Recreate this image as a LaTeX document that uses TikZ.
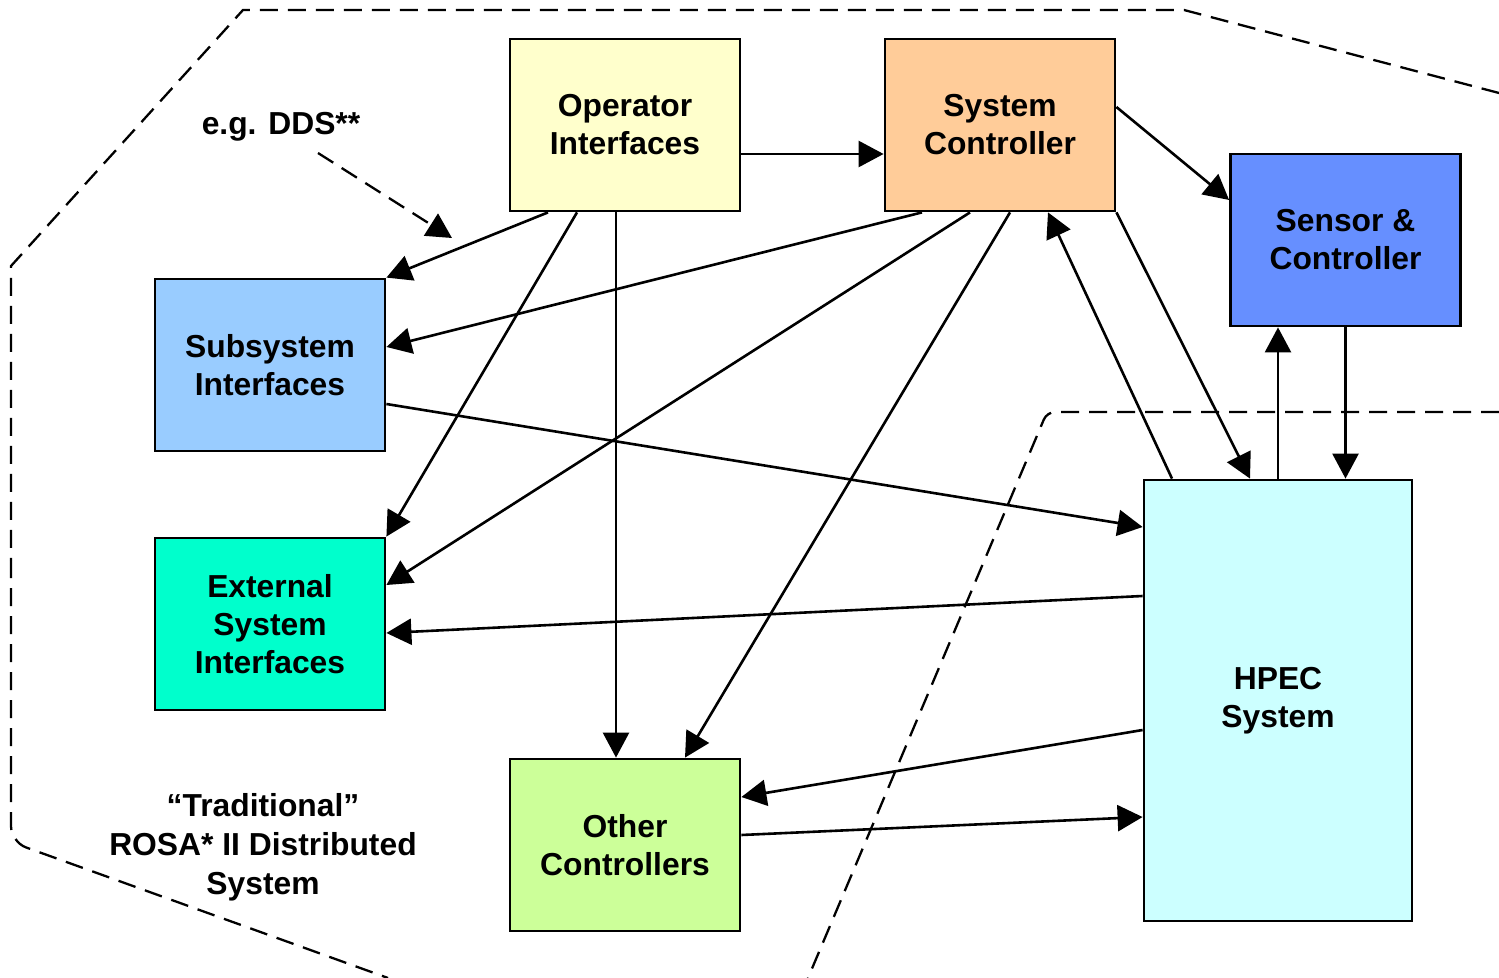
\documentclass[tikz,border=0pt]{standalone}
\usepackage{fontspec}
\setmainfont{Liberation Sans}
\usetikzlibrary{arrows.meta,calc}
\definecolor{cop}{HTML}{FFFFCC}
\definecolor{csc}{HTML}{FFCC99}
\definecolor{csen}{HTML}{668FFF}
\definecolor{csub}{HTML}{99CCFF}
\definecolor{cext}{HTML}{00FFCC}
\definecolor{coth}{HTML}{CCFF99}
\definecolor{chpec}{HTML}{CCFFFF}
\begin{document}
\begin{tikzpicture}[x=0.5pt,y=-0.5pt,
  box/.style={draw=black,line width=1.4pt,rectangle,align=center,inner sep=0pt,
    font=\bfseries\fontsize{15.9}{19}\selectfont,minimum width=115pt,minimum height=86pt},
  arr/.style={line width=1.3pt,-{Triangle[length=12.5pt,width=13pt]}},
  dsh/.style={line width=1.15pt,dash pattern=on 9pt off 5pt},
  lbl/.style={align=center,inner sep=0pt,font=\bfseries\fontsize{15.9}{19.5}\selectfont}]
\useasboundingbox (0,0) rectangle (1499,978);
% dashed boundaries
\draw[dsh] (1499,93) -- (1184,10) -- (243,10) -- (11,266) -- (11,560);
\draw[dsh,rounded corners=8pt] (11,560) -- (11,842) -- (388,978);
\draw[dsh,rounded corners=4pt] (1499,412) -- (1047,412) -- (808,978);
% boxes
\node[box,fill=cop] (op) at (625,125) {Operator\\Interfaces};
\node[box,fill=csc] (sc) at (1000,125) {System\\Controller};
\node[box,fill=csen] (sen) at (1345.5,240) {Sensor \&\\Controller};
\node[box,fill=csub] (sub) at (270,365) {Subsystem\\Interfaces};
\node[box,fill=cext] (ext) at (270,624) {External\\System\\Interfaces};
\node[box,fill=coth] (oth) at (625,845) {Other\\Controllers};
\node[box,fill=chpec,minimum width=134pt,minimum height=220.5pt] (hpec) at (1278,700.5) {HPEC\\System};
% labels
\node[lbl] (dds) at (281,127) {e.g. DDS**};
\node[lbl] (rosa) at (263,847) {``Traditional''\\ROSA* II Distributed\\System};
\coordinate (ddsa) at (318,153);
\coordinate (ddsb) at (452,238);
\draw[arr,dsh] (ddsa) -- (ddsb);
% connectors
\draw[arr] ([yshift=-14.5pt]op.east) -- ([yshift=-14.5pt]sc.west);
\draw[arr] ([xshift=-38.5pt]op.south) -- (sub.north east);
\draw[arr] ([xshift=-24pt]op.south) -- (ext.north east);
\draw[arr] ([xshift=-4.5pt]op.south) -- ([xshift=-4.5pt]oth.north);
\draw[arr] ([xshift=-39pt]sc.south) -- ([yshift=9pt]sub.east);
\draw[arr] ([xshift=-15pt]sc.south) -- ([yshift=19.5pt]ext.east);
\draw[arr] ([xshift=5pt]sc.south) -- ([xshift=30pt]oth.north);
\draw[arr] ([yshift=9pt]sc.east) -- ([yshift=20pt]sen.west);
\draw[arr] (sc.south east) -- ([xshift=-14pt]hpec.north);
\draw[arr] ([xshift=-53pt]hpec.north) -- ([xshift=24pt]sc.south);
\draw[arr] (hpec.north) -- (hpec.north |- sen.south);
\draw[arr] (sen.south) -- (sen.south |- hpec.north);
\draw[arr] ([yshift=-19.5pt]sub.east) -- ([yshift=86.75pt]hpec.west);
\draw[arr] ([yshift=52.25pt]hpec.west) -- ([yshift=-4.5pt]ext.east);
\draw[arr] ([yshift=-14.75pt]hpec.west) -- ([yshift=24pt]oth.east);
\draw[arr] ([yshift=5pt]oth.east) -- ([yshift=-58.25pt]hpec.west);
\end{tikzpicture}
\end{document}
